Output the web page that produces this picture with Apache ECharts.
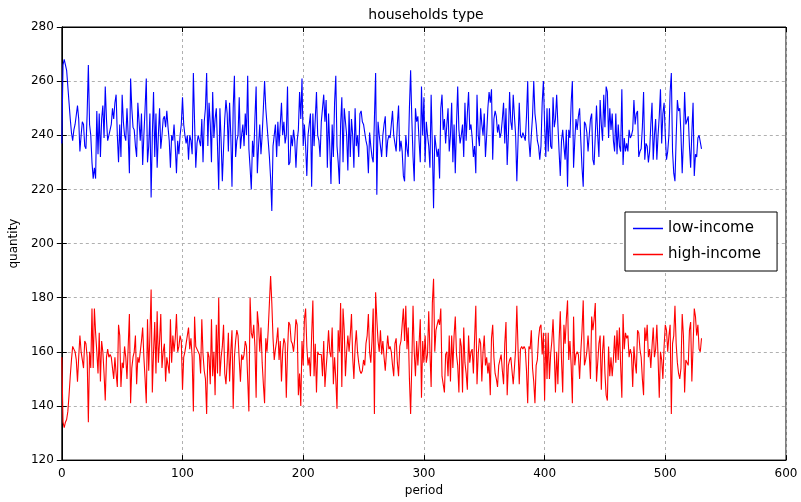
<!DOCTYPE html>
<html>
<head>
<meta charset="utf-8">
<script src="https://cdn.jsdelivr.net/npm/echarts@6/dist/echarts.min.js"></script>
<style>
  html, body { margin: 0; padding: 0; background: #fff; }
  #main { width: 801px; height: 502px; }
</style>
</head>
<body>
<div id="main"></div>
<script>
// 横坐标刻度
const xTicks = [0, 100, 200, 300, 400, 500, 600];
const yTicks = [120, 140, 160, 180, 200, 220, 240, 260, 280];

// low-income 每期数量
const lowIncome = [
  237,266,268,266,264,258,252,246,241,238,
  242,244,244,251,246,234,240,245,244,236,
  235,248,266,244,240,230,224,228,224,249,
  233,248,232,246,251,239,258,246,238,240,
  242,244,250,246,252,255,240,230,244,232,
  255,245,240,238,250,240,226,261,250,243,
  242,236,232,252,245,238,248,229,240,250,
  261,230,236,248,217,240,256,232,248,228,
  240,250,235,240,246,247,243,249,243,238,
  228,240,238,244,236,226,238,233,240,244,
  254,244,240,237,240,231,240,238,233,263,
  245,228,237,240,238,236,246,230,245,250,
  263,236,252,244,230,256,239,246,250,236,
  220,250,238,223,235,246,253,248,234,252,
  240,221,250,262,232,238,240,254,235,240,
  244,236,248,240,262,235,228,220,238,232,
  246,258,226,236,244,233,240,250,260,250,
  244,238,232,224,212,236,240,244,232,245,
  236,244,252,240,245,237,240,258,229,230,
  240,236,242,238,228,238,242,256,246,261,
  236,244,236,225,240,244,248,221,248,236,
  246,256,240,238,232,245,250,255,245,253,
  228,248,236,222,244,232,252,262,236,230,
  222,244,254,230,250,250,240,227,249,232,
  246,240,228,250,236,240,232,248,249,245,
  244,241,238,236,226,241,236,232,230,246,
  263,218,245,240,236,232,240,244,247,232,
  238,240,239,244,249,240,237,234,244,251,
  234,238,234,225,223,240,235,232,250,264,
  246,232,223,250,245,247,238,230,258,240,
  254,230,245,240,236,228,255,236,213,240,
  236,232,235,224,250,255,242,246,237,244,
  250,234,240,252,230,244,226,244,258,242,
  237,240,244,232,252,238,248,256,242,244,
  239,232,236,226,255,240,236,250,244,240,
  248,232,240,250,256,252,257,231,246,249,
  247,241,244,239,241,246,252,237,250,229,
  240,256,245,242,255,247,240,223,238,252,
  240,239,241,241,238,247,260,238,232,240,
  247,260,248,244,238,236,231,236,252,260,
  244,232,250,234,250,236,235,254,243,246,
  255,244,234,225,238,242,236,231,242,221,
  242,239,252,260,228,238,246,242,247,250,
  238,228,221,245,244,241,234,240,246,248,
  231,229,240,251,240,232,253,244,238,255,
  243,258,256,239,250,242,248,238,234,248,
  233,244,236,234,257,229,239,234,237,234,
  242,239,240,242,253,244,248,249,232,234,
  235,243,256,231,237,236,230,234,244,252,
  231,240,246,231,240,247,257,237,248,252,
  240,231,234,240,256,263,234,226,223,239,
  253,249,250,240,226,238,256,244,244,247,
  236,228,241,252,225,233,232,239,240,240,235
];

// high-income 每期数量
const highIncome = [
  158,134,132,134,135,138,144,151,157,162,
  161,160,157,149,158,166,160,157,154,164,
  163,158,134,160,154,176,154,176,167,160,
  152,167,149,164,160,152,142,158,161,158,
  159,158,154,150,158,152,147,170,166,147,
  156,154,162,158,150,162,174,141,154,158,
  160,166,148,158,156,160,164,169,158,150,
  141,172,153,166,183,145,160,171,152,175,
  156,164,174,154,160,163,149,158,155,152,
  172,156,166,160,165,174,160,162,166,164,
  146,158,160,163,166,169,161,165,158,138,
  173,162,161,160,159,152,172,159,153,150,
  137,160,158,148,172,151,160,144,170,152,
  180,151,158,162,170,152,148,156,167,149,
  160,168,139,158,164,168,166,157,149,159,
  157,159,164,162,150,138,180,167,165,170,
  162,143,175,170,160,169,156,148,141,165,
  160,168,178,188,178,165,157,161,164,169,
  157,164,149,160,165,163,143,160,171,170,
  164,163,160,165,172,170,144,152,140,164,
  155,172,176,162,155,158,151,166,179,151,
  163,145,160,159,159,159,151,164,147,154,
  160,168,160,158,169,148,158,150,139,168,
  160,178,147,176,168,151,160,166,160,166,
  174,158,150,162,168,160,156,153,152,153,
  157,155,163,166,174,160,156,164,176,137,
  182,172,164,160,168,159,164,158,153,160,
  166,161,162,160,155,151,163,165,156,151,
  162,164,170,176,164,177,161,169,150,137,
  156,177,160,151,164,155,163,172,143,164,
  156,166,156,159,175,160,147,178,187,160,
  168,168,172,170,176,151,151,145,159,160,
  151,166,149,166,154,166,173,159,155,145,
  165,162,145,169,156,152,146,166,156,160,
  161,152,165,177,148,159,165,163,149,160,
  166,155,158,152,156,144,165,170,158,152,
  150,147,155,157,159,153,148,163,171,144,
  155,157,158,158,148,154,161,177,161,148,
  161,162,161,162,161,153,141,162,161,168,
  154,149,141,155,157,165,169,170,159,167,
  142,167,150,167,150,159,164,172,160,145,
  160,148,164,175,157,145,170,163,172,179,
  157,164,155,141,173,155,159,160,159,150,
  160,168,179,155,157,160,166,159,150,173,
  168,172,178,149,149,163,166,146,160,166,
  152,144,142,162,151,158,151,157,166,156,
  168,157,169,155,143,174,161,167,165,166,
  158,161,159,147,162,156,152,168,167,161,
  158,150,144,169,164,170,158,161,154,162,
  169,158,161,170,158,143,160,157,150,162,
  170,168,160,166,170,137,163,166,177,163,
  156,152,150,154,174,166,145,157,157,155,
  168,171,149,162,176,173,166,170,161,160,165
];

const font = 'DejaVu Sans';
let chartDom = document.getElementById('main');
let myChart = echarts.init(chartDom);

// 轴的公共设置
const xBase = {
  type: 'value',
  min: xTicks[0],
  max: xTicks[xTicks.length - 1],
  interval: xTicks[1] - xTicks[0],
  axisLine: { show: true, lineStyle: { color: '#000', width: 1 } },
  axisTick: { show: true, inside: true, length: 5, lineStyle: { color: '#000' } }
};
const yBase = {
  type: 'value',
  min: yTicks[0],
  max: yTicks[yTicks.length - 1],
  interval: yTicks[1] - yTicks[0],
  axisLine: { show: true, lineStyle: { color: '#000', width: 1 } },
  axisTick: { show: true, inside: true, length: 5, lineStyle: { color: '#000' } }
};
const gridLine = { show: true, lineStyle: { color: '#b0b0b0', type: [3, 3], width: 1 } };

let option = {
  animation: false,
  backgroundColor: '#fff',
  textStyle: { fontFamily: font },
  title: {
    text: 'households type',
    left: 421,
    top: 3,
    textAlign: 'center',
    textStyle: { fontFamily: font, fontSize: 14, fontWeight: 'normal', color: '#000' }
  },
  grid: {
    left: 57, right: 15, top: 27, bottom: 40,
    show: true, borderColor: '#000', borderWidth: 1
  },
  legend: {
    orient: 'vertical',
    left: 625,
    top: 212,
    icon: 'rect',
    itemWidth: 30,
    itemHeight: 1.5,
    itemGap: 11,
    padding: [9, 16, 9, 8],
    borderColor: '#000',
    borderWidth: 1,
    borderRadius: 0,
    backgroundColor: '#fff',
    textStyle: { fontFamily: font, fontSize: 15, color: '#000' },
    data: ['low-income', 'high-income']
  },
  xAxis: [
    Object.assign({}, xBase, {
      position: 'bottom',
      name: 'period',
      nameLocation: 'middle',
      nameGap: 24,
      nameTextStyle: { fontFamily: font, fontSize: 12, color: '#000' },
      axisLabel: { color: '#000', fontSize: 12, margin: 8, fontFamily: font },
      splitLine: gridLine
    }),
    Object.assign({}, xBase, {
      position: 'top',
      axisLabel: { show: false },
      splitLine: { show: false }
    })
  ],
  yAxis: [
    Object.assign({}, yBase, {
      position: 'left',
      name: 'quantity',
      nameLocation: 'middle',
      nameGap: 40,
      nameTextStyle: { fontFamily: font, fontSize: 12, color: '#000' },
      axisLabel: { color: '#000', fontSize: 12, margin: 8, fontFamily: font },
      splitLine: gridLine
    }),
    Object.assign({}, yBase, {
      position: 'right',
      axisLabel: { show: false },
      splitLine: { show: false }
    })
  ],
  series: [
    {
      name: 'low-income',
      type: 'line',
      showSymbol: false,
      color: '#0000ff',
      lineStyle: { width: 1.1, color: '#0000ff' },
      data: lowIncome.map((v, i) => [i, v])
    },
    {
      name: 'high-income',
      type: 'line',
      showSymbol: false,
      color: '#ff0000',
      lineStyle: { width: 1.1, color: '#ff0000' },
      data: highIncome.map((v, i) => [i, v])
    }
  ]
};
option && myChart.setOption(option);
</script>
</body>
</html>
